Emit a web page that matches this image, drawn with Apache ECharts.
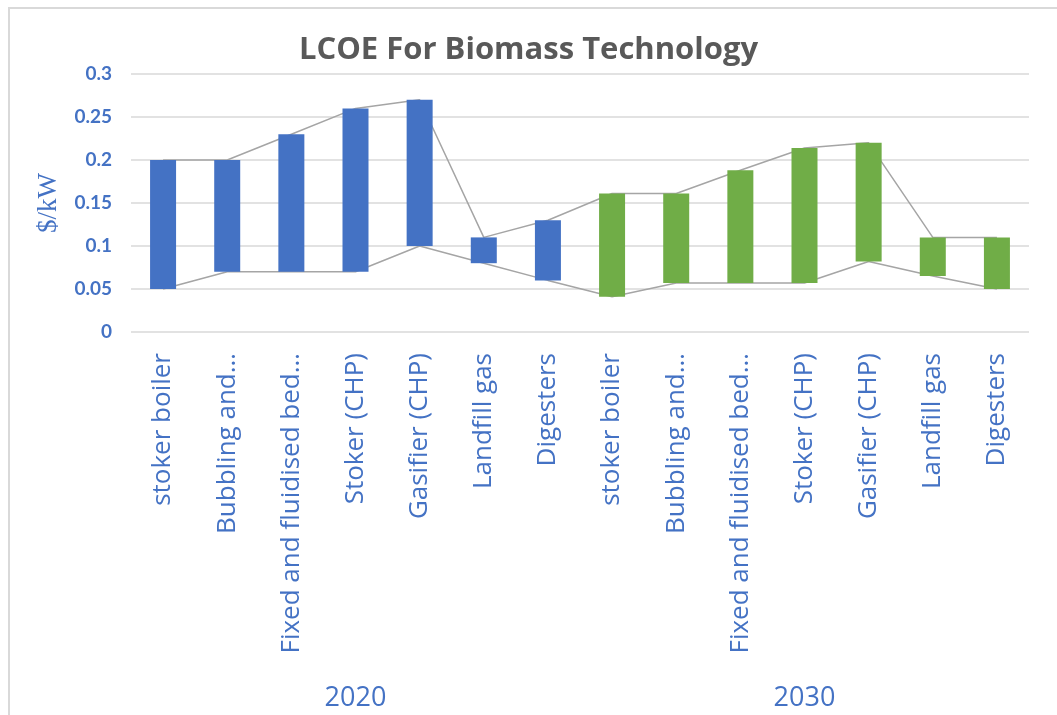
<!DOCTYPE html>
<html>
<head>
    <meta charset="utf-8">
    <title>LCOE For Biomass Technology</title>
    <script src="https://cdn.jsdelivr.net/npm/echarts@6/dist/echarts.min.js"></script>
    <style>
        html, body { margin: 0; padding: 0; background: #fff; }
        #frame {
            position: absolute; left: 8px; top: 7px; right: 0; bottom: 0;
            border-top: 2px solid #d9d9d9; border-left: 2px solid #d9d9d9;
        }
        #chart1 { position: absolute; left: 0; top: 0; width: 1057px; height: 715px; }
    </style>
</head>
<body>
<div id="frame"></div>
<div id="chart1"></div>
<script>
    // 技术分类（两组：2020 / 2030）
    var technologies = ['stoker boiler', 'Bubbling and…', 'Fixed and fluidised bed…',
        'Stoker (CHP)', 'Gasifier (CHP)', 'Landfill gas', 'Digesters',
        'stoker boiler', 'Bubbling and…', 'Fixed and fluidised bed…',
        'Stoker (CHP)', 'Gasifier (CHP)', 'Landfill gas', 'Digesters'];
    var years = ['2020', '2030'];
    // 最高值 / 最低值 ($/kW)
    var highValues = [0.2, 0.2, 0.23, 0.26, 0.27, 0.11, 0.13,
        0.161, 0.161, 0.188, 0.214, 0.22, 0.11, 0.11];
    var lowValues = [0.05, 0.07, 0.07, 0.07, 0.1, 0.08, 0.06,
        0.041, 0.057, 0.057, 0.057, 0.082, 0.065, 0.05];
    var yTicks = [0, 0.05, 0.1, 0.15, 0.2, 0.25, 0.3];

    var blue = '#4472c4';
    var green = '#70ad47';
    var gray = '#a5a5a5';

    // 柱子 = high - low，叠在透明的 low 上面
    var rangeData = highValues.map(function (h, i) {
        return {
            value: +(h - lowValues[i]).toFixed(4),
            itemStyle: { color: i < 7 ? blue : green }
        };
    });

    var myChart1 = echarts.init(document.getElementById('chart1'));
    myChart1.setOption({
        animation: false,
        title: {
            text: 'LCOE For Biomass Technology',
            left: 'center',
            top: 30,
            textStyle: {
                fontFamily: 'Open Sans',
                fontWeight: 'bold',
                fontSize: 31,
                color: '#595959'
            }
        },
        grid: { left: 131, right: 28, top: 74, bottom: 383 },
        xAxis: [{
            type: 'category',
            data: technologies,
            axisLine: { show: false },
            axisTick: { show: false },
            axisLabel: {
                rotate: 90,
                interval: 0,
                margin: 21,
                color: blue,
                fontFamily: 'Open Sans',
                fontSize: 26
            }
        }, {
            type: 'category',
            data: years,
            position: 'bottom',
            offset: 345,
            axisLine: { show: false },
            axisTick: { show: false },
            axisLabel: {
                color: blue,
                fontFamily: 'Open Sans',
                fontSize: 27
            }
        }],
        yAxis: {
            type: 'value',
            min: yTicks[0],
            max: yTicks[yTicks.length - 1],
            interval: 0.05,
            name: '$/kW',
            nameLocation: 'middle',
            nameRotate: 90,
            nameGap: 69,
            nameTextStyle: {
                color: blue,
                fontFamily: 'Liberation Serif',
                fontSize: 27
            },
            axisLabel: {
                color: blue,
                fontFamily: 'Lato',
                fontWeight: 'bold',
                fontSize: 19,
                margin: 19
            },
            splitLine: { lineStyle: { color: '#d9d9d9', width: 1.5 } }
        },
        series: [{
            name: 'high',
            type: 'line',
            data: highValues,
            symbol: 'none',
            z: 2,
            lineStyle: { color: gray, width: 1.5 }
        }, {
            name: 'low',
            type: 'line',
            data: lowValues,
            symbol: 'none',
            z: 2,
            lineStyle: { color: gray, width: 1.5 }
        }, {
            name: 'base',
            type: 'bar',
            stack: 'range',
            data: lowValues,
            barWidth: 26,
            z: 3,
            itemStyle: { color: 'transparent' }
        }, {
            name: 'range',
            type: 'bar',
            stack: 'range',
            data: rangeData,
            barWidth: 26,
            z: 3
        }]
    });
</script>
</body>
</html>
